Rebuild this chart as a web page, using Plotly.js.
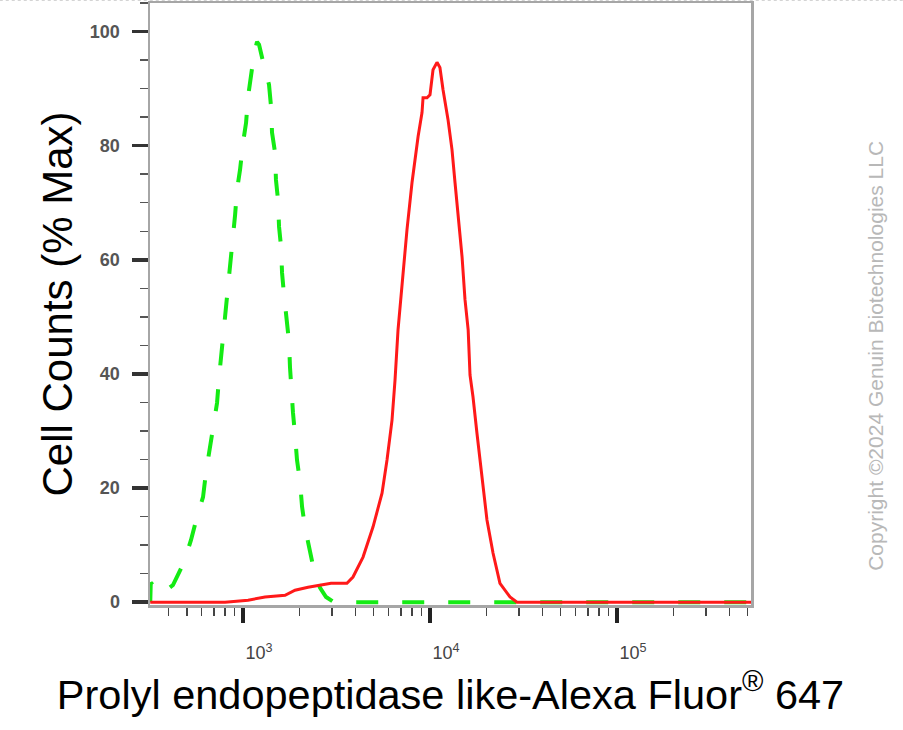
<!DOCTYPE html>
<html>
<head>
<meta charset="utf-8">
<script src="https://cdn.plot.ly/plotly-3.0.1.min.js"></script>
<style>
  html, body { margin: 0; padding: 0; background: #fff; }
  #chart { width: 903px; height: 730px; }
</style>
</head>
<body>
<div id="chart"></div>
<script>
// ---- Data ----
// Isotype / unstained control (green dashed)
const controlX = [319, 321, 330, 343, 373, 422, 484, 527, 567, 611, 634, 666, 700, 726, 744, 763, 791, 811, 841, 863, 885, 907, 929, 964, 1000, 1038, 1064, 1104, 1145, 1188, 1218, 1280, 1327, 1377, 1412, 1429, 1483, 1500, 1538, 1558, 1597, 1617, 1656, 1698, 1762, 1783, 1806, 1850, 1897, 1944, 2018, 2069, 2148, 2282, 2427, 2582, 2780, 3030, 3510, 5000, 10000, 50000, 100000, 521000];
const controlY = [0, 3.4, 3.0, 1.8, 1.6, 3.0, 7.0, 10.9, 14.9, 18.4, 22.8, 27.0, 31.1, 34.9, 39.3, 43.0, 47.7, 51.6, 56.0, 59.5, 64.0, 67.9, 72.3, 75.8, 80.5, 84.0, 88.6, 92.1, 96.0, 98.2, 97.7, 94.7, 92.8, 90.7, 86.8, 82.3, 78.8, 74.0, 70.5, 65.8, 62.3, 57.7, 53.9, 49.8, 45.6, 41.2, 37.5, 33.2, 29.3, 24.9, 21.1, 16.7, 13.0, 8.6, 4.7, 2.5, 0.9, 0.1, 0, 0, 0, 0, 0, 0];

// Prolyl endopeptidase like stained sample (red solid)
const sampleX = [319, 763, 801, 1064, 1311, 1678, 1897, 2228, 2612, 2958, 3594, 3873, 4384, 4959, 5539, 5889, 6264, 6500, 6745, 7083, 7533, 8011, 8318, 8637, 9064, 9180, 9638, 10000, 10380, 10900, 11300, 11740, 12480, 13110, 13610, 14130, 14840, 15390, 16000, 16370, 16980, 17830, 18970, 20170, 21730, 23670, 26780, 29190, 35000, 100000, 521000];
const sampleY = [0, 0, 0, 0.35, 0.9, 1.2, 2.1, 2.6, 3.0, 3.3, 3.3, 4.4, 7.9, 13.2, 19.1, 24.9, 31.9, 38.9, 47.7, 56.0, 65.3, 73.5, 78.1, 81.6, 85.8, 88.4, 88.4, 88.9, 93.3, 94.6, 93.7, 89.8, 84.6, 79.3, 73.5, 67.5, 60.5, 53.0, 47.7, 39.8, 36.0, 29.6, 21.4, 14.4, 8.6, 3.3, 0.9, 0, 0, 0, 0];

// Axis ticks
const xTickVals = [1000, 10000, 100000];
const xTickText = ['10<sup>3</sup>', '10<sup>4</sup>', '10<sup>5</sup>'];
const xMinorVals = [400, 500, 600, 700, 800, 900,
  2000, 3000, 4000, 5000, 6000, 7000, 8000, 9000,
  20000, 30000, 40000, 50000, 60000, 70000, 80000, 90000,
  200000, 300000, 400000, 500000];
const yTickVals = [0, 20, 40, 60, 80, 100];
const yTickText = ['0', '20', '40', '60', '80', '100'];

const xTitle = 'Prolyl endopeptidase like-Alexa Fluor<sup>®</sup> 647';
const yTitle = 'Cell Counts (% Max)';
const copyrightText = 'Copyright ©2024 Genuin Biotechnologies LLC';

const FONT = 'Arial, "Liberation Sans", Helvetica, sans-serif';

const traces = [
  {
    x: controlX, y: controlY, type: 'scatter', mode: 'lines',
    name: 'Control',
    line: { color: 'rgb(20,235,20)', width: 4, dash: '22px,24px' },
    hoverinfo: 'skip'
  },
  {
    x: sampleX, y: sampleY, type: 'scatter', mode: 'lines',
    name: 'Sample',
    line: { color: 'rgb(255,25,25)', width: 3 },
    hoverinfo: 'skip'
  }
];

const layout = {
  width: 903, height: 730,
  margin: { l: 150, r: 152, t: 3, b: 125 },
  paper_bgcolor: '#ffffff', plot_bgcolor: '#ffffff',
  showlegend: false,
  font: { family: FONT, color: '#000' },
  xaxis: {
    type: 'log',
    range: [Math.log10(318), Math.log10(521000)],
    tickmode: 'array', tickvals: xTickVals, ticktext: xTickText,
    ticks: 'outside', ticklen: 15, tickwidth: 3.5, tickcolor: '#222',
    tickfont: { family: FONT, size: 18, color: '#444' },
    ticklabelshift: 16,
    ticklabelstandoff: 15,
    minor: { tickvals: xMinorVals, ticks: 'outside', ticklen: 8, tickwidth: 1.5, tickcolor: '#444', showgrid: false },
    showgrid: false, zeroline: false,
    showline: true, linecolor: '#a6a6a6', linewidth: 2.5, mirror: true,
    title: { text: xTitle, font: { family: FONT, size: 41.5, color: '#000' }, standoff: 18 }
  },
  yaxis: {
    range: [-0.5, 105],
    tickmode: 'array', tickvals: yTickVals, ticktext: yTickText,
    ticks: 'outside', ticklen: 16, tickwidth: 3.5, tickcolor: '#333',
    tickfont: { family: FONT, size: 18, color: '#555', weight: 'bold' },
    ticklabelstandoff: 8,
    minor: { dtick: 5, ticks: 'outside', ticklen: 8, tickwidth: 1.5, tickcolor: '#555', showgrid: false },
    showgrid: false, zeroline: false,
    showline: true, linecolor: '#a6a6a6', linewidth: 2.5, mirror: true,
    title: { text: yTitle, font: { family: FONT, size: 42, color: '#000' }, standoff: 4 }
  },
  annotations: [
    {
      text: copyrightText, xref: 'paper', yref: 'paper',
      x: 1.206, y: 0.4136, xanchor: 'center', yanchor: 'middle',
      textangle: -90, showarrow: false,
      font: { family: FONT, size: 21, color: '#b8b8b8' }
    }
  ],
  shapes: [
    {
      type: 'line', xref: 'paper', yref: 'paper',
      x0: -0.25, x1: 1.253, y0: 1.0045, y1: 1.0045,
      line: { color: '#c8c8c8', width: 1, dash: 'dot' }
    }
  ]
};

Plotly.newPlot('chart', traces, layout, { displayModeBar: false, staticPlot: true });
</script>
</body>
</html>
